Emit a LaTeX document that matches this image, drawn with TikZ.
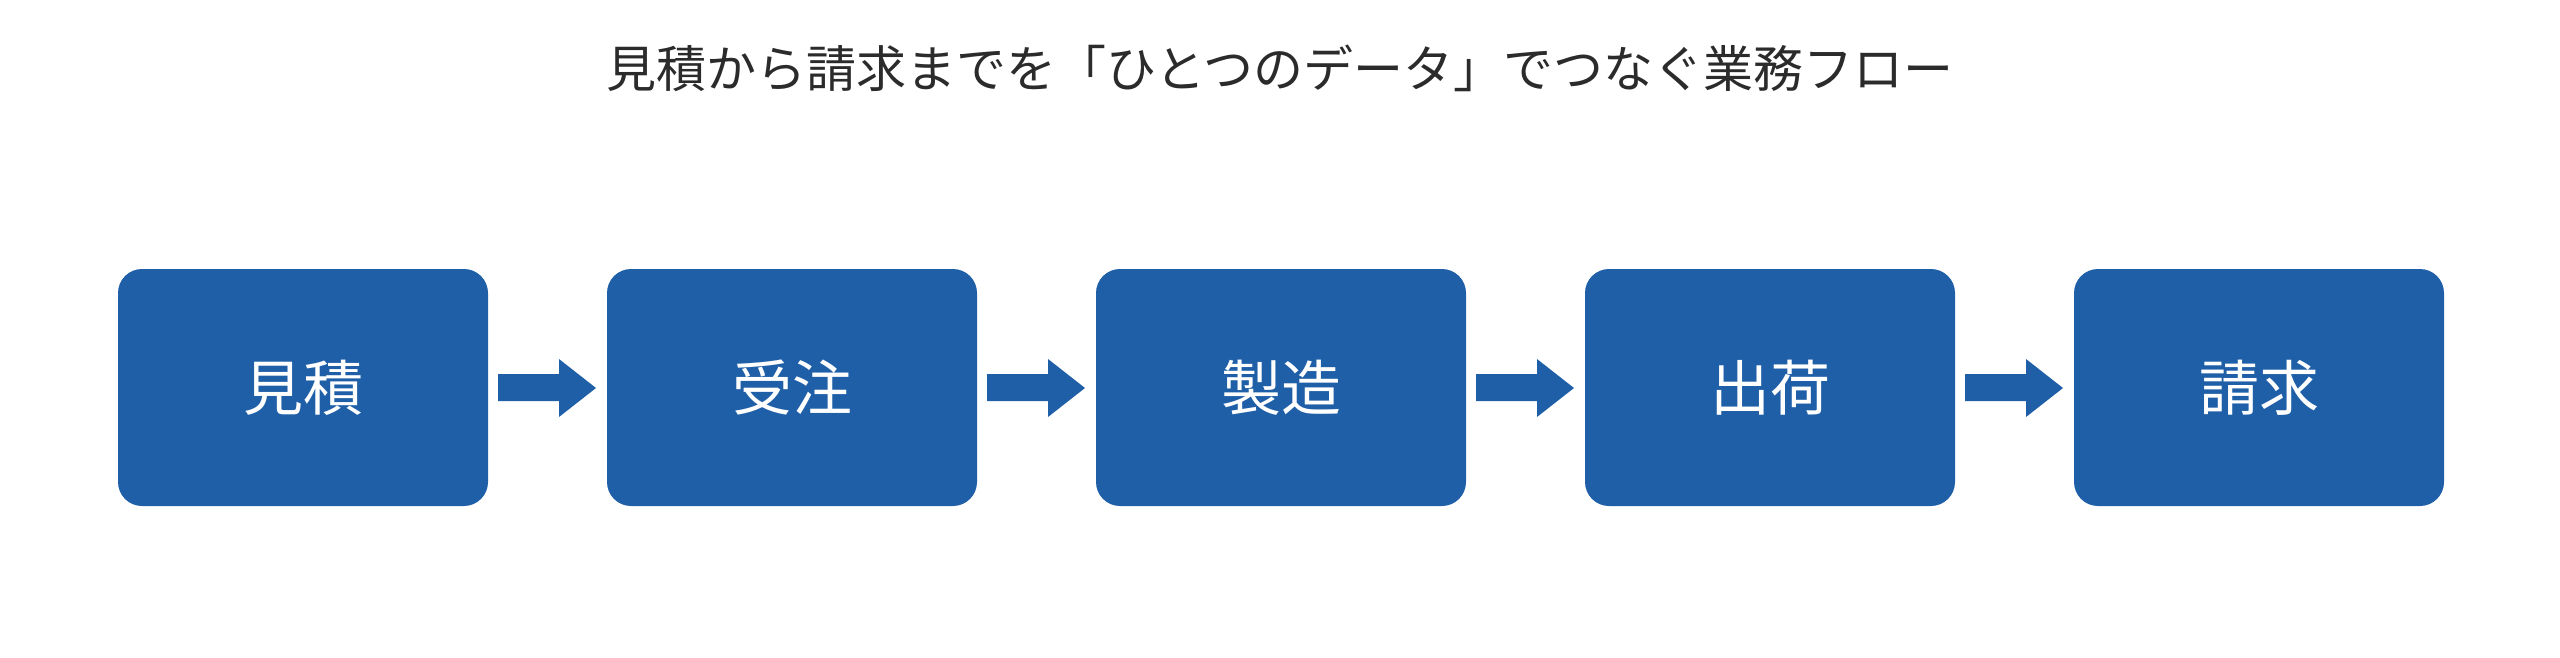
\documentclass[tikz,border=0pt]{standalone}
\usepackage{fontspec}
\setmainfont{Noto Sans CJK JP}
\definecolor{boxblue}{HTML}{1F5FA8}
\definecolor{titlec}{HTML}{2B2B2B}
\begin{document}
\begin{tikzpicture}[x=1pt,y=-1pt,
  stepbox/.style={fill=boxblue,rounded corners=24pt,minimum width=370pt,minimum height=237pt,inner sep=0pt,text=white,font=\fontsize{60}{72}\selectfont},
  arr/.style={fill=boxblue}]
\useasboundingbox (0,0) rectangle (2560,657);
\node[font=\fontsize{50}{60}\selectfont,text=titlec] (title) at (1280,68) {見積から請求までを「ひとつのデータ」でつなぐ業務フロー};
\foreach \i/\t in {0/見積,1/受注,2/製造,3/出荷,4/請求}{
  \node[stepbox] (b\i) at (303+489*\i,387.5) {\t};
}
\foreach \i in {0,1,2,3}{
  \pgfmathsetmacro{\xa}{498+489*\i}
  \fill[arr] (\xa,374) -- (\xa+61,374) -- (\xa+61,359) -- (\xa+98,388) -- (\xa+61,417) -- (\xa+61,401) -- (\xa,401) -- cycle;
}
\end{tikzpicture}
\end{document}
